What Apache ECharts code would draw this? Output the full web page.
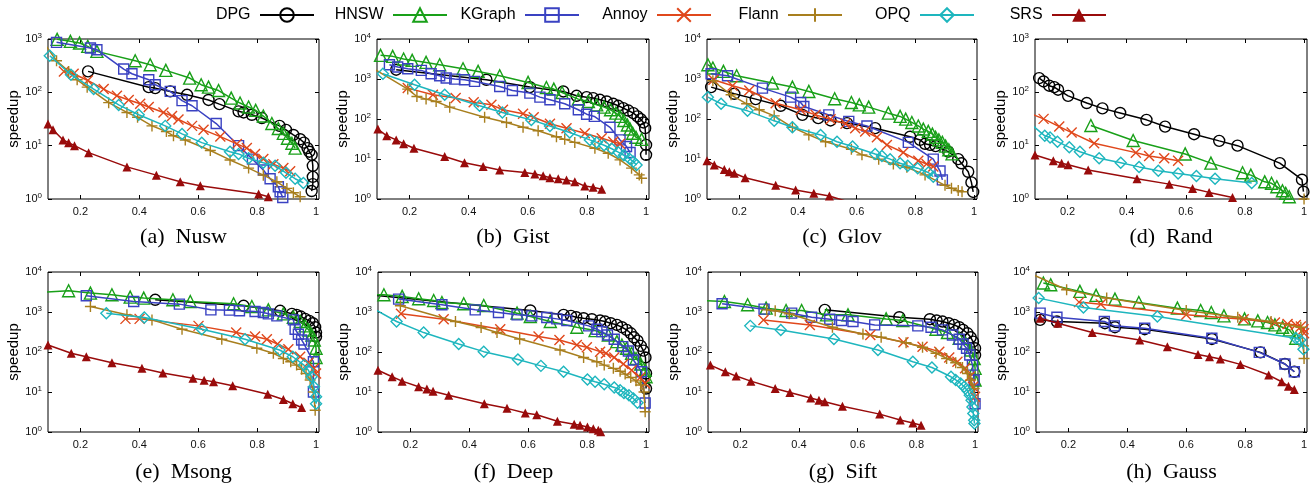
<!DOCTYPE html>
<html><head><meta charset="utf-8">
<script src="https://cdn.jsdelivr.net/npm/echarts@6/dist/echarts.min.js"></script>
<style>html,body{margin:0;padding:0;background:#fff}#c{width:1315px;height:485px}</style>
</head><body><div id="c"></div>
<script>
const methods = ['DPG','HNSW','KGraph','Annoy','Flann','OPQ','SRS'];
const datasets = ['Nusw','Gist','Glov','Rand','Msong','Deep','Sift','Gauss'];
const captionTags = ['(a)','(b)','(c)','(d)','(e)','(f)','(g)','(h)'];
const xTicks = [0.2,0.4,0.6,0.8,1];
const yMax = [1000,10000,10000,1000,10000,10000,10000,10000];

// (a) Nusw
const nusw_DPG = [[0.226,247],[0.432,125],[0.454,120],[0.505,104],[0.562,90],[0.635,72],[0.672,60],[0.737,44],[0.754,42],[0.782,38],[0.816,33],[0.876,23.5],[0.898,19.8],[0.923,15.9],[0.946,13.2],[0.959,11.4],[0.971,9.0],[0.977,7.7],[0.985,6.7],[0.989,4.2],[0.989,2.6],[0.989,1.9],[0.985,1.41]];
const nusw_HNSW = [[0.121,985],[0.166,903],[0.197,840],[0.225,727],[0.256,586],[0.386,391],[0.437,329],[0.490,258],[0.571,185],[0.610,139],[0.635,125],[0.669,108],[0.712,78],[0.742,63],[0.771,53],[0.795,46],[0.821,36],[0.850,26],[0.872,21],[0.889,17],[0.903,13.8],[0.918,11.1],[0.929,9.0]];
const nusw_KGraph = [[0.119,865],[0.234,677],[0.256,630],[0.347,273],[0.375,223],[0.432,172],[0.454,139],[0.505,104],[0.545,70],[0.579,56],[0.661,26],[0.737,10],[0.784,5.6],[0.821,3.5],[0.844,2.4],[0.872,1.7],[0.878,1.37],[0.887,1.07]];
const nusw_Annoy = [[0.144,247],[0.177,223],[0.225,167],[0.279,115],[0.324,86],[0.364,72],[0.403,61],[0.432,53],[0.482,42],[0.511,36],[0.533,31],[0.579,23.5],[0.618,19.8],[0.675,14.8],[0.731,10.8],[0.765,9.0],[0.793,7.0],[0.821,5.6],[0.855,4.5],[0.889,3.8],[0.912,3.3]];
const nusw_Flann = [[0.085,720],[0.119,391],[0.160,247],[0.189,172],[0.223,125],[0.296,64],[0.358,42],[0.394,34],[0.443,23.5],[0.492,18.4],[0.516,15.3],[0.556,12.8],[0.641,8.1],[0.708,5.4],[0.771,3.8],[0.821,2.8],[0.867,2.1],[0.901,1.58],[0.923,1.31],[0.946,1.1]];
const nusw_OPQ = [[0.096,486],[0.168,214],[0.245,115],[0.330,58],[0.398,38],[0.488,23.5],[0.545,16.6],[0.612,11.4],[0.708,7.7],[0.737,7.0],[0.771,5.8],[0.821,4.8],[0.861,4.2],[0.898,3.1],[0.929,2.4],[0.957,2.0]];
const nusw_SRS = [[0.090,25.6],[0.107,19.8],[0.141,12.8],[0.160,11.4],[0.180,10],[0.228,7.4],[0.358,4.0],[0.458,2.8],[0.539,2.1],[0.607,1.78],[0.805,1.24],[0.838,1.1]];

// (b) Gist
const gist_DPG = [[0.155,1706],[0.460,958],[0.607,627],[0.720,489],[0.765,380],[0.799,352],[0.821,333],[0.844,302],[0.867,274],[0.889,240],[0.906,214],[0.923,187],[0.940,163],[0.957,140],[0.971,116],[0.982,99],[0.991,82],[0.997,59],[1.0,22.5],[1.0,12.7]];
const gist_HNSW = [[0.102,3900],[0.143,3680],[0.180,3155],[0.209,2925],[0.256,2602],[0.302,2277],[0.381,1806],[0.432,1549],[0.505,1206],[0.601,821],[0.663,615],[0.688,559],[0.716,461],[0.771,314],[0.805,274],[0.833,226],[0.858,198],[0.880,170],[0.898,140],[0.912,116],[0.925,92],[0.937,71],[0.946,56],[0.955,44],[0.966,35],[0.985,31]];
const gist_KGraph = [[0.132,2277],[0.160,1987],[0.194,1806],[0.240,1641],[0.273,1355],[0.302,1206],[0.324,1055],[0.353,995],[0.386,958],[0.420,870],[0.505,652],[0.548,517],[0.607,444],[0.641,352],[0.675,302],[0.725,240],[0.771,170],[0.799,132],[0.825,116],[0.878,62],[0.912,30],[0.934,20.5],[0.946,14.5]];
const gist_Annoy = [[0.194,592],[0.279,403],[0.356,333],[0.417,264],[0.477,226],[0.516,170],[0.584,135],[0.620,111],[0.675,76],[0.731,59],[0.793,44],[0.850,33],[0.889,27],[0.912,24]];
const gist_Flann = [[0.085,1700],[0.194,559],[0.225,366],[0.256,314],[0.290,274],[0.336,198],[0.454,111],[0.528,82],[0.584,62],[0.635,51],[0.697,36],[0.725,31],[0.759,26],[0.827,18.6],[0.872,13.9],[0.912,9.5],[0.951,5.9],[0.977,4.0],[0.985,3.3]];
const gist_OPQ = [[0.110,1355],[0.217,718],[0.319,403],[0.437,214],[0.514,146],[0.612,95],[0.675,67],[0.742,46],[0.810,30],[0.833,26],[0.858,22],[0.884,18],[0.906,14.8],[0.925,12.4],[0.944,10.2],[0.957,8.6],[0.968,7.1]];
const gist_SRS = [[0.093,56],[0.123,38],[0.155,30],[0.180,24],[0.215,18.6],[0.319,11.5],[0.386,8.1],[0.449,6.5],[0.505,5.3],[0.590,4.6],[0.624,4.2],[0.652,3.8],[0.675,3.4],[0.703,3.2],[0.731,3.0],[0.759,2.7],[0.793,2.1],[0.821,1.96],[0.850,1.75]];

// (c) Glov
const glov_DPG = [[0.104,627],[0.183,427],[0.256,314],[0.341,214],[0.415,127],[0.469,105],[0.511,92],[0.567,79],[0.663,59],[0.782,36],[0.816,30],[0.833,24],[0.850,22.5],[0.869,21],[0.912,15.3],[0.946,9.9],[0.957,7.8],[0.980,4.8],[0.991,2.6],[0.997,1.5]];
const glov_HNSW = [[0.093,2277],[0.110,1877],[0.146,1549],[0.191,1206],[0.313,790],[0.381,627],[0.437,489],[0.525,320],[0.582,259],[0.609,226],[0.641,198],[0.708,140],[0.748,116],[0.767,99],[0.788,82],[0.810,67],[0.827,56],[0.844,49],[0.858,42],[0.869,35],[0.880,30],[0.892,26],[0.903,21],[0.914,17],[0.925,13.4]];
const glov_KGraph = [[0.104,1355],[0.160,1206],[0.279,592],[0.375,352],[0.409,259],[0.420,206],[0.505,127],[0.573,87],[0.635,67],[0.776,26],[0.861,9.9],[0.884,5.0],[0.892,3.0]];
const glov_Annoy = [[0.112,958],[0.177,678],[0.234,517],[0.324,249],[0.409,170],[0.460,127],[0.511,99],[0.562,76],[0.595,59],[0.629,49],[0.669,35],[0.703,22.5],[0.759,14.5],[0.810,9.1],[0.838,7.5],[0.861,6.5]];
const glov_Flann = [[0.110,903],[0.172,403],[0.225,240],[0.268,170],[0.319,120],[0.381,62],[0.437,40],[0.494,27],[0.582,17.5],[0.618,12.7],[0.675,9.9],[0.725,7.5],[0.771,6.2],[0.833,4.0],[0.901,2.2],[0.923,1.85],[0.946,1.62],[0.959,1.52]];
const glov_OPQ = [[0.093,352],[0.138,240],[0.228,160],[0.319,90],[0.381,62],[0.477,40],[0.533,27],[0.586,20.5],[0.663,13.4],[0.686,11.9],[0.714,9.9],[0.748,7.8],[0.774,6.8],[0.808,5.9],[0.844,4.6],[0.861,3.6]];
const glov_SRS = [[0.090,9.1],[0.115,7.1],[0.149,5.5],[0.166,4.8],[0.183,4.4],[0.220,3.4],[0.324,2.2],[0.392,1.68],[0.454,1.39],[0.507,1.19],[0.560,0.9]];

// (d) Rand
const rand_DPG = [[0.104,185],[0.119,160],[0.138,133],[0.155,125],[0.168,112],[0.202,86],[0.265,63],[0.318,50],[0.378,41],[0.467,30.5],[0.530,22.8],[0.628,16.4],[0.713,12.3],[0.775,10],[0.918,4.7],[0.993,2.3],[0.998,1.37]];
const rand_HNSW = [[0.279,23.9],[0.422,12.5],[0.598,7.0],[0.685,4.7],[0.792,3.1],[0.820,2.8],[0.867,2.1],[0.890,1.97],[0.908,1.7],[0.927,1.43],[0.938,1.28],[0.950,1.1]];
const rand_KGraph = [];
const rand_Annoy = [[0.085,38],[0.119,31.8],[0.172,22.8],[0.214,17.6],[0.290,11.1],[0.431,7.4],[0.476,6.4],[0.527,5.8],[0.574,5.2]];
const rand_Flann = [[1.0,1.0]];
const rand_OPQ = [[0.085,23],[0.123,15.3],[0.141,14.2],[0.166,11.9],[0.206,9.3],[0.242,7.7],[0.307,5.8],[0.380,4.8],[0.442,4.0],[0.507,3.4],[0.574,3.0],[0.636,2.7],[0.699,2.4],[0.823,2.0]];
const rand_SRS = [[0.090,6.7],[0.152,5.2],[0.180,4.7],[0.202,4.4],[0.270,3.5],[0.435,2.4],[0.544,1.9],[0.623,1.58],[0.679,1.33],[0.758,1.07]];

// (e) Msong
const msong_DPG = [[0.454,2020],[0.754,1429],[0.878,1070],[0.918,900],[0.934,849],[0.948,771],[0.963,673],[0.977,600],[0.989,524],[0.997,416],[1.0,306],[1.0,243]];
const msong_HNSW = [[0.085,3148],[0.160,3400],[0.234,2970],[0.307,2700],[0.369,2357],[0.415,2224],[0.514,2020],[0.573,1836],[0.720,1603],[0.782,1374],[0.838,1133],[0.889,900],[0.923,742],[0.946,578],[0.963,450],[0.975,356],[0.986,267],[0.994,200],[1.0,124],[1.0,73]];
const msong_KGraph = [[0.220,2546],[0.381,1836],[0.536,1573],[0.643,1133],[0.706,1112],[0.740,1070],[0.793,1030],[0.821,970],[0.838,900],[0.867,802],[0.923,635],[0.929,371],[0.940,278],[0.951,200],[0.959,159],[0.991,57],[0.991,10]];
const msong_Annoy = [[0.353,673],[0.401,673],[0.601,450],[0.729,306],[0.793,243],[0.833,208],[0.869,159],[0.906,117],[0.946,76],[0.974,54],[0.993,39],[1.0,29]];
const msong_Flann = [[0.234,1374],[0.358,849],[0.443,635],[0.545,371],[0.680,208],[0.799,124],[0.855,93],[0.889,69],[0.914,57],[0.934,47],[0.951,37],[0.966,29],[0.980,20],[0.991,10],[0.997,3.5]];
const msong_OPQ = [[0.288,935],[0.417,728],[0.612,371],[0.759,208],[0.876,112],[0.921,76],[0.959,47],[0.974,35],[0.985,24],[0.993,13.5],[1.0,7.6],[1.0,5.1]];
const msong_SRS = [[0.090,150],[0.169,93],[0.220,76],[0.307,54],[0.409,39],[0.480,30],[0.582,22],[0.620,19.8],[0.652,18],[0.717,14.3],[0.836,8.8],[0.889,6.5],[0.921,5.1],[0.951,4.1]];

// (f) Deep
const deep_DPG = [[0.085,2600],[0.607,1090],[0.720,849],[0.745,802],[0.763,742],[0.788,700],[0.816,661],[0.844,612],[0.861,578],[0.880,525],[0.901,476],[0.918,416],[0.934,357],[0.948,294],[0.959,233],[0.971,193],[0.982,142],[0.991,108],[0.998,73],[1.0,29],[1.0,12.2]];
const deep_HNSW = [[0.085,2700],[0.110,2700],[0.172,2450],[0.228,2143],[0.279,1944],[0.307,1730],[0.381,1603],[0.449,1456],[0.562,935],[0.607,771],[0.675,578],[0.765,416],[0.827,343],[0.872,267],[0.901,182],[0.918,150],[0.934,124],[0.951,93],[0.966,69],[0.982,50],[0.997,35],[1.0,24]];
const deep_KGraph = [[0.160,2100],[0.307,1514],[0.420,1133],[0.499,971],[0.562,849],[0.612,802],[0.663,728],[0.697,673],[0.731,612],[0.805,450],[0.833,371],[0.850,324],[0.869,267],[0.892,208],[0.921,136],[0.940,106],[0.957,63],[0.985,32],[0.997,5.3]];
const deep_Annoy = [[0.168,900],[0.313,661],[0.505,371],[0.635,243],[0.706,200],[0.765,150],[0.799,131],[0.844,102],[0.864,93],[0.892,73],[0.923,50],[0.951,35],[0.980,23],[0.997,16.3]];
const deep_Flann = [[0.166,1429],[0.353,578],[0.440,408],[0.494,306],[0.571,212],[0.708,112],[0.788,73],[0.833,57],[0.858,47],[0.889,39],[0.912,33],[0.929,28],[0.948,23],[0.966,19],[0.982,14.9],[0.993,10],[0.997,3.2]];
const deep_OPQ = [[0.085,1100],[0.153,578],[0.245,306],[0.364,159],[0.449,102],[0.565,65],[0.643,45],[0.720,32],[0.801,20.6],[0.827,18],[0.858,15.7],[0.892,13.0],[0.912,11.1],[0.925,9.5],[0.942,8.3],[0.957,6.9],[0.971,5.4]];
const deep_SRS = [[0.090,35],[0.138,24],[0.172,18.7],[0.228,13.5],[0.256,11.8],[0.277,10.5],[0.330,8.3],[0.451,5.1],[0.528,3.9],[0.590,3.0],[0.629,2.7],[0.699,1.85],[0.756,1.56],[0.776,1.47],[0.801,1.34],[0.821,1.21],[0.838,1.1],[0.846,1.02]];

// (g) Sift
const sift_DPG = [[0.488,1133],[0.742,742],[0.846,661],[0.869,612],[0.889,578],[0.910,525],[0.929,476],[0.946,416],[0.959,357],[0.974,294],[0.985,233],[0.993,182],[1.0,124],[1.0,84]];
const sift_HNSW = [[0.085,1905],[0.146,1836],[0.225,1514],[0.288,1248],[0.356,1090],[0.409,1090],[0.494,849],[0.567,849],[0.697,673],[0.754,612],[0.867,371],[0.906,306],[0.946,220],[0.968,165],[0.985,112],[0.997,69],[1.0,39],[1.0,20]];
const sift_KGraph = [[0.138,1603],[0.281,1178],[0.375,935],[0.443,742],[0.505,661],[0.545,612],[0.584,578],[0.658,476],[0.805,450],[0.850,416],[0.889,357],[0.923,267],[0.946,208],[0.959,159],[0.971,124],[0.982,84],[0.991,47],[0.997,20],[1.0,5.1]];
const sift_Annoy = [[0.279,635],[0.437,476],[0.643,267],[0.756,175],[0.821,136],[0.878,102],[0.912,73],[0.940,57],[0.966,39],[0.982,24],[0.993,13.5],[1.0,7.6]];
const sift_Flann = [[0.290,1133],[0.319,1070],[0.367,900],[0.514,416],[0.618,283],[0.680,233],[0.765,171],[0.821,131],[0.867,93],[0.903,69],[0.934,54],[0.957,41],[0.974,29],[0.985,20],[0.997,12.2]];
const sift_OPQ = [[0.234,450],[0.338,357],[0.519,212],[0.669,112],[0.788,57],[0.853,41],[0.918,24],[0.934,20],[0.951,16.3],[0.963,13.5],[0.974,10.7],[0.982,8.3],[0.988,6.2],[0.991,4.2],[0.994,2.9],[0.997,1.96],[0.998,1.62]];
const sift_SRS = [[0.098,47],[0.149,32],[0.186,25],[0.236,18.7],[0.319,12.2],[0.369,9.7],[0.440,7.1],[0.468,6.2],[0.488,5.7],[0.548,4.4],[0.675,2.8],[0.745,2.0],[0.788,1.68],[0.816,1.47]];

// (h) Gauss
const gauss_DPG = [[0.104,636],[0.161,578],[0.324,525],[0.358,416],[0.459,371],[0.687,212],[0.852,98],[0.935,50],[0.967,32]];
const gauss_HNSW = [[0.115,5296],[0.140,4810],[0.239,3270],[0.294,2597],[0.358,2100],[0.439,1730],[0.570,1248],[0.649,1090],[0.685,971],[0.728,802],[0.798,673],[0.843,600],[0.876,545],[0.901,476],[0.927,416],[0.950,357],[0.972,220]];
const gauss_KGraph = [[0.104,935],[0.161,742],[0.322,578],[0.356,450],[0.459,393],[0.687,220],[0.848,98],[0.935,50],[0.967,32]];
const gauss_Annoy = [[0.236,1766],[0.310,1573],[0.600,849],[0.795,661],[0.901,545],[0.944,504],[0.972,476],[0.989,433],[0.998,371],[1.0,294]];
const gauss_Flann = [[0.085,8200],[0.194,3600],[0.330,2224],[0.600,1090],[0.775,742],[0.888,578],[0.989,416],[0.998,142],[1.0,69]];
const gauss_OPQ = [[0.099,2224],[0.251,1297],[0.502,771],[0.972,220],[0.987,200],[0.998,117]];
const gauss_SRS = [[0.104,700],[0.164,525],[0.281,306],[0.442,200],[0.536,136],[0.640,87],[0.679,76],[0.716,67],[0.784,49],[0.880,26.5],[0.924,18],[0.947,14],[0.967,11.6]];

const panels = [
  [nusw_DPG, nusw_HNSW, nusw_KGraph, nusw_Annoy, nusw_Flann, nusw_OPQ, nusw_SRS],
  [gist_DPG, gist_HNSW, gist_KGraph, gist_Annoy, gist_Flann, gist_OPQ, gist_SRS],
  [glov_DPG, glov_HNSW, glov_KGraph, glov_Annoy, glov_Flann, glov_OPQ, glov_SRS],
  [rand_DPG, rand_HNSW, rand_KGraph, rand_Annoy, rand_Flann, rand_OPQ, rand_SRS],
  [msong_DPG, msong_HNSW, msong_KGraph, msong_Annoy, msong_Flann, msong_OPQ, msong_SRS],
  [deep_DPG, deep_HNSW, deep_KGraph, deep_Annoy, deep_Flann, deep_OPQ, deep_SRS],
  [sift_DPG, sift_HNSW, sift_KGraph, sift_Annoy, sift_Flann, sift_OPQ, sift_SRS],
  [gauss_DPG, gauss_HNSW, gauss_KGraph, gauss_Annoy, gauss_Flann, gauss_OPQ, gauss_SRS]
];

// ---- layout & style ----
const SANS = 'Liberation Sans';
const SERIF = 'Liberation Serif';
const gridL = [48, 377, 707, 1035, 48, 378, 708, 1036];
const gridR = [319, 649, 977, 1307, 319, 649, 978, 1307];
const gridT = [39, 39, 39, 39, 272, 272, 272, 272];
const GH = 160;
const capY = [226, 226, 226, 226, 461, 461, 461, 461];
const legendLineEnd = [315, 448, 580, 712, 843, 975, 1107];

const colors = ['#000000', '#19a019', '#3a42c2', '#e0481c', '#a87f1e', '#1eb6be', '#990b0b'];
const symbols = ['circle', 'triangle', 'rect', 'path://M0,0L10,10M10,0L0,10', 'path://M5,0L5,10M0,5L10,5', 'diamond', 'triangle'];
const symSizes = [11, 12, 10, 10, 11, 11, 9];
const hollow = [true, true, true, false, false, true, false];

const grids = [], xAxes = [], yAxes = [], series = [], titles = [];
for (let p = 0; p < 8; p++) {
  grids.push({left: gridL[p], top: gridT[p], width: gridR[p] - gridL[p], height: GH,
    show: true, borderColor: '#000', borderWidth: 1, backgroundColor: 'transparent', containLabel: false});
  const xBase = {type: 'value', gridIndex: p, min: 0.09, max: 1.01,
    axisLine: {show: false}, splitLine: {show: false}};
  xAxes.push(Object.assign({}, xBase, {position: 'bottom',
    axisTick: {show: true, inside: true, length: 4, customValues: xTicks, lineStyle: {color: '#000'}},
    axisLabel: {show: true, customValues: xTicks, margin: 7, fontSize: 11, fontFamily: SANS, color: '#111'}}));
  xAxes.push(Object.assign({}, xBase, {position: 'top',
    axisTick: {show: true, inside: true, length: 4, customValues: xTicks, lineStyle: {color: '#000'}},
    axisLabel: {show: false}}));
  const yBase = {type: 'log', logBase: 10, gridIndex: p, min: 1, max: yMax[p],
    axisLine: {show: false}, splitLine: {show: false}, minorTick: {show: false}};
  yAxes.push(Object.assign({}, yBase, {position: 'left',
    name: 'speedup', nameLocation: 'middle', nameGap: 26,
    nameTextStyle: {fontSize: 15, fontFamily: SANS, color: '#000'},
    axisTick: {show: true, inside: true, length: 4, lineStyle: {color: '#000'}},
    axisLabel: {show: true, margin: 6,
      formatter: v => '{b|10}{s|' + Math.round(Math.log10(v)) + '}',
      rich: {b: {fontSize: 11, fontFamily: SANS, color: '#111'},
             s: {fontSize: 8, fontFamily: SANS, color: '#111', padding: [0, 0, 7, 0]}}}}));
  yAxes.push(Object.assign({}, yBase, {position: 'right',
    axisTick: {show: true, inside: true, length: 4, lineStyle: {color: '#000'}},
    axisLabel: {show: false}}));
  titles.push({text: captionTags[p] + '  ' + datasets[p], left: (gridL[p] + gridR[p]) / 2, top: capY[p],
    textAlign: 'center', padding: 0,
    textStyle: {fontFamily: SERIF, fontSize: 22, fontWeight: 'normal', color: '#000'}});
  for (let m = 0; m < 7; m++) {
    series.push({
      name: methods[m], type: 'line', xAxisIndex: 2 * p, yAxisIndex: 2 * p,
      data: panels[p][m], symbol: symbols[m], symbolSize: symSizes[m], showAllSymbol: true,
      clip: true, silent: true, animation: false, z: 2 + m,
      lineStyle: {color: colors[m], width: 1.5},
      itemStyle: {color: hollow[m] ? 'rgba(255,255,255,0)' : colors[m],
        borderColor: colors[m], borderWidth: m === 6 ? 0 : 1.4},
      emphasis: {disabled: true}
    });
  }
}

const legends = methods.map((m, i) => ({
  data: [m], right: 1315 - legendLineEnd[i], top: 7, align: 'right', padding: 0,
  itemWidth: 54, itemHeight: 17, selectedMode: false,
  formatter: n => n + ' ',
  textStyle: {fontSize: 16, fontFamily: SANS, color: '#000'}
}));

const chart = echarts.init(document.getElementById('c'), null, {renderer: 'canvas'});
chart.setOption({
  animation: false, backgroundColor: '#fff',
  title: titles, legend: legends, grid: grids, xAxis: xAxes, yAxis: yAxes, series: series
});
</script></body></html>
